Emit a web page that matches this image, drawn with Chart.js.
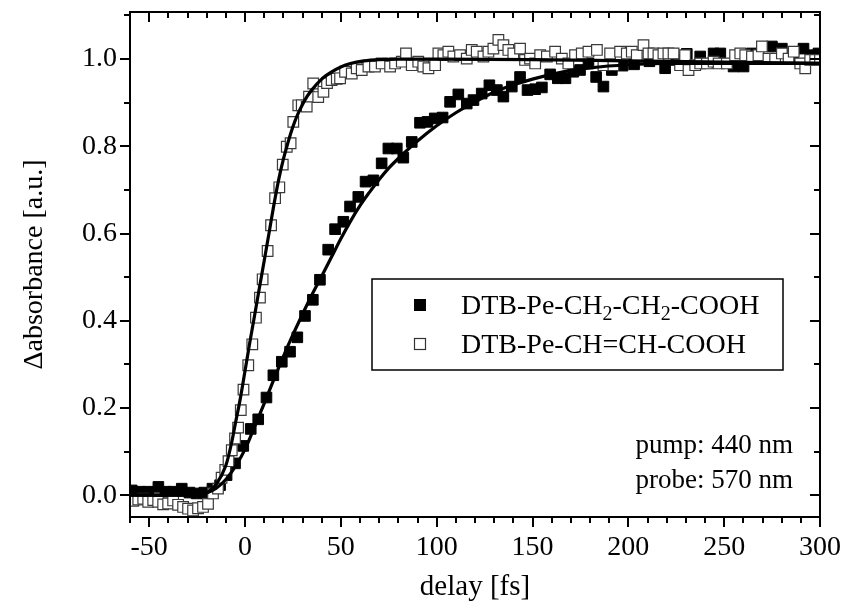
<!DOCTYPE html>
<html>
<head>
<meta charset="utf-8">
<script src="https://cdn.jsdelivr.net/npm/chart.js@4.4.1/dist/chart.umd.min.js"></script>
<style>
  html, body { margin: 0; padding: 0; background: #fff; }
  #chart { display: block; }
</style>
</head>
<body>
<canvas id="chart" width="845" height="614"></canvas>
<script>
// DTB-Pe-CH=CH-COOH (open squares)
var openDelay = [-58.3, -55.7, -53.1, -50.5, -47.9, -45.3, -42.7, -40.1, -37.5, -34.9, -32.3, -29.7, -27.1, -24.5, -21.9, -19.3, -16.7, -14.1, -12.2, -10.3, -8.6, -6.9, -5.2, -3.6, -2.2, -0.8, 1.7, 3.8, 5.7, 7.8, 9.2, 11.8, 13.6, 15.7, 17.9, 19.7, 21.8, 23.8, 25.2, 27.8, 29.6, 32.2, 33.4, 35.6, 38.2, 40.9, 42.8, 45.2, 47.9, 49.6, 52.2, 55.7, 58.3, 60.9, 64.4, 67.8, 71.3, 75.7, 78.3, 81.8, 84.0, 87.0, 90.4, 93.0, 95.7, 99.2, 100.9, 103.5, 106.1, 108.7, 112.2, 115.7, 118.3, 120.9, 124.4, 127.0, 129.6, 132.2, 134.8, 137.4, 140.0, 143.5, 146.1, 148.7, 151.4, 154.0, 157.5, 161.8, 165.3, 168.7, 172.2, 175.7, 179.2, 183.6, 187.0, 190.5, 192.2, 195.7, 199.2, 201.8, 204.4, 207.9, 210.5, 213.1, 215.7, 218.3, 220.9, 223.6, 227.0, 229.6, 231.4, 234.9, 237.5, 241.0, 244.5, 247.1, 251.4, 255.7, 258.4, 261.0, 264.5, 267.9, 269.7, 273.1, 276.6, 280.1, 283.6, 286.3, 289.7, 292.3, 294.9, 297.5, 300.0];
var openAbs = [-0.013, -0.010, -0.008, -0.015, -0.011, -0.015, -0.021, -0.019, -0.012, -0.022, -0.027, -0.031, -0.035, -0.030, -0.027, -0.020, 0.004, 0.015, 0.040, 0.058, 0.078, 0.103, 0.130, 0.155, 0.195, 0.242, 0.298, 0.346, 0.407, 0.453, 0.495, 0.560, 0.619, 0.681, 0.706, 0.758, 0.799, 0.807, 0.856, 0.894, 0.894, 0.891, 0.914, 0.944, 0.913, 0.925, 0.945, 0.952, 0.955, 0.956, 0.971, 0.967, 0.979, 0.975, 0.983, 0.983, 0.990, 0.983, 0.990, 0.994, 1.013, 0.986, 0.994, 0.983, 0.979, 0.986, 1.013, 1.009, 1.017, 1.006, 1.009, 1.001, 1.021, 1.017, 1.006, 1.017, 1.024, 1.044, 1.032, 1.021, 1.013, 1.024, 0.998, 1.001, 0.990, 1.009, 1.006, 1.017, 1.001, 0.990, 1.009, 1.013, 1.017, 1.021, 0.986, 1.013, 0.986, 1.017, 1.013, 1.017, 1.009, 1.032, 1.013, 1.013, 1.009, 1.013, 1.013, 1.013, 0.986, 1.009, 0.975, 0.986, 0.990, 0.990, 0.994, 0.990, 0.990, 1.009, 1.013, 1.009, 1.006, 1.009, 1.029, 1.001, 1.001, 1.013, 1.001, 1.017, 0.990, 0.979, 0.998, 0.998, 0.998];

// DTB-Pe-CH2-CH2-COOH (filled squares)
var filledDelay = [-59.1, -55.0, -50.5, -45.2, -41.5, -37.3, -33.0, -29.0, -25.2, -21.2, -17.0, -13.0, -9.6, -5.2, -0.9, 3.0, 6.9, 11.2, 14.8, 19.2, 23.5, 27.3, 31.3, 35.4, 39.1, 43.4, 47.0, 51.3, 54.8, 59.1, 62.9, 67.0, 71.3, 74.8, 79.2, 82.6, 87.0, 91.3, 95.2, 99.0, 103.1, 107.0, 111.3, 115.7, 119.2, 123.5, 127.5, 131.4, 134.8, 139.2, 143.5, 147.4, 151.4, 154.9, 159.2, 163.2, 167.2, 171.3, 174.8, 179.2, 183.2, 187.0, 191.4, 197.0, 203.0, 211.0, 219.2, 225.0, 230.5, 237.5, 244.5, 248.0, 254.9, 260.1, 264.5, 270.0, 274.9, 280.1, 286.0, 291.4, 295.7, 299.2];
var filledAbs = [0.011, 0.008, 0.008, 0.019, 0.008, 0.008, 0.015, 0.006, 0.004, 0.006, 0.015, 0.023, 0.046, 0.073, 0.113, 0.152, 0.174, 0.224, 0.275, 0.306, 0.329, 0.362, 0.411, 0.448, 0.494, 0.563, 0.610, 0.627, 0.662, 0.684, 0.719, 0.722, 0.761, 0.795, 0.795, 0.774, 0.810, 0.854, 0.856, 0.864, 0.866, 0.902, 0.919, 0.898, 0.906, 0.921, 0.940, 0.929, 0.914, 0.937, 0.959, 0.929, 0.931, 0.935, 0.965, 0.956, 0.956, 0.971, 0.975, 0.990, 0.959, 0.937, 0.975, 0.985, 0.988, 0.995, 0.979, 0.998, 1.012, 1.006, 1.013, 1.013, 0.983, 0.983, 1.013, 1.000, 1.029, 1.024, 1.002, 1.024, 1.009, 1.013];

// fit curves
var fastFitDelay = [-60, -40, -30, -25, -20, -15, -10, -6.9, -5, -2.6, 0, 2.5, 5, 7.5, 10, 12.5, 15, 17.5, 20, 22.5, 25, 27.5, 30, 32.5, 35, 40, 45, 50, 55, 62, 70, 80, 100, 150, 200, 250, 300];
var fastFitAbs = [0, 0, 0, 0.001, 0.006, 0.025, 0.068, 0.122, 0.165, 0.218, 0.285, 0.35, 0.412, 0.475, 0.537, 0.6, 0.664, 0.722, 0.77, 0.81, 0.845, 0.873, 0.896, 0.915, 0.93, 0.954, 0.97, 0.982, 0.99, 0.996, 0.999, 1.0, 1.0, 0.999, 0.996, 0.993, 0.99];
var slowFitDelay = [-60, -40, -30, -25, -20, -15, -10, -5, 0, 5, 10, 15, 20, 25, 30, 35, 40, 45, 50, 55, 60, 65, 70, 75, 80, 90, 100, 110, 120, 130, 140, 150, 160, 170, 180, 200, 220, 250, 300];
var slowFitAbs = [0, 0, 0, 0.001, 0.005, 0.016, 0.036, 0.066, 0.105, 0.157, 0.21, 0.265, 0.318, 0.368, 0.415, 0.46, 0.502, 0.545, 0.588, 0.628, 0.664, 0.695, 0.724, 0.75, 0.772, 0.812, 0.847, 0.877, 0.902, 0.924, 0.941, 0.954, 0.965, 0.974, 0.98, 0.987, 0.99, 0.99, 0.99];

var xTickValues = [-50, 0, 50, 100, 150, 200, 250, 300];
var yTickValues = [0, 0.2, 0.4, 0.6, 0.8, 1.0];

var FONT = "'Liberation Serif', 'Times New Roman', serif";

function toPoints(xs, ys) {
    return xs.map(function (x, i) { return { x: x, y: ys[i] }; });
}

// frame with ticks: outside on bottom/left, inside on top/right
var framePlugin = {
    id: 'frame',
    afterDraw: function (chart) {
        var ctx = chart.ctx;
        var a = chart.chartArea;
        var xs = chart.scales.x;
        var ys = chart.scales.y;
        ctx.save();
        ctx.strokeStyle = '#000';
        ctx.lineWidth = 2;
        ctx.strokeRect(a.left, a.top, a.right - a.left, a.bottom - a.top);
        ctx.beginPath();
        for (var v = -60; v <= 300; v += 10) {
            var px = Math.round(xs.getPixelForValue(v));
            var len = (v % 50 === 0) ? 10 : 6;
            ctx.moveTo(px, a.bottom);
            ctx.lineTo(px, a.bottom + len);
            ctx.moveTo(px, a.top);
            ctx.lineTo(px, a.top + len);
        }
        for (var i = 0; i <= 11; i++) {
            var py = Math.round(ys.getPixelForValue(i / 10));
            var l = (i % 2 === 0) ? 10 : 6;
            ctx.moveTo(a.left - l, py);
            ctx.lineTo(a.left, py);
            ctx.moveTo(a.right - l, py);
            ctx.lineTo(a.right, py);
        }
        ctx.stroke();

        // legend
        ctx.lineWidth = 1.5;
        ctx.strokeRect(372, 279, 411, 91);
        ctx.fillStyle = '#000';
        ctx.fillRect(414, 299, 12, 12);
        ctx.fillStyle = '#fff';
        ctx.fillRect(414, 338, 12, 12);
        ctx.strokeStyle = '#333';
        ctx.lineWidth = 1.2;
        ctx.strokeRect(414.5, 338.5, 11, 11);

        ctx.fillStyle = '#000';
        ctx.textBaseline = 'alphabetic';
        ctx.textAlign = 'left';
        var parts = [['DTB-Pe-CH', false], ['2', true], ['-CH', false], ['2', true], ['-COOH', false]];
        var tx = 461;
        parts.forEach(function (p) {
            ctx.font = (p[1] ? '20px ' : '28px ') + FONT;
            ctx.fillText(p[0], tx, p[1] ? 320 : 314);
            tx += ctx.measureText(p[0]).width;
        });
        ctx.font = '28px ' + FONT;
        ctx.fillText('DTB-Pe-CH=CH-COOH', 461, 353);

        // measurement note
        ctx.textAlign = 'right';
        ctx.font = '27px ' + FONT;
        ctx.fillText('pump: 440 nm', 793, 453);
        ctx.fillText('probe: 570 nm', 793, 488);
        ctx.restore();
    }
};

var ctx = document.getElementById('chart').getContext('2d');

var chart = new Chart(ctx, {
    type: 'scatter',
    data: {
        datasets: [
            {
                label: 'fit CH=CH',
                data: toPoints(fastFitDelay, fastFitAbs),
                showLine: true,
                borderColor: '#000',
                borderWidth: 3.2,
                pointRadius: 0,
                cubicInterpolationMode: 'monotone',
                order: 0
            },
            {
                label: 'fit CH2-CH2',
                data: toPoints(slowFitDelay, slowFitAbs),
                showLine: true,
                borderColor: '#000',
                borderWidth: 3.2,
                pointRadius: 0,
                cubicInterpolationMode: 'monotone',
                order: 0
            },
            {
                label: 'DTB-Pe-CH=CH-COOH',
                data: toPoints(openDelay, openAbs),
                pointStyle: 'rect',
                pointRadius: 7.5,
                backgroundColor: '#fff',
                borderColor: '#3a3a3a',
                borderWidth: 1.2,
                order: 1
            },
            {
                label: 'DTB-Pe-CH2-CH2-COOH',
                data: toPoints(filledDelay, filledAbs),
                pointStyle: 'rect',
                pointRadius: 7.5,
                backgroundColor: '#000',
                borderColor: '#000',
                borderWidth: 1,
                order: 2
            }
        ]
    },
    options: {
        responsive: false,
        animation: false,
        devicePixelRatio: 1,
        layout: {
            padding: { left: 0, right: 25, top: 12, bottom: 0 }
        },
        plugins: {
            legend: { display: false },
            tooltip: { enabled: false }
        },
        scales: {
            x: {
                type: 'linear',
                min: -60,
                max: 300,
                grid: { display: false, drawTicks: false },
                border: { display: false },
                afterBuildTicks: function (scale) {
                    scale.ticks = xTickValues.map(function (v) { return { value: v }; });
                },
                afterFit: function (scale) {
                    scale.height = 97;
                    scale.paddingLeft = 0;
                    scale.paddingRight = 0;
                },
                ticks: {
                    color: '#000',
                    padding: 14,
                    maxRotation: 0,
                    font: { family: FONT, size: 28 },
                    callback: function (v) { return String(v); }
                },
                title: {
                    display: true,
                    text: 'delay [fs]',
                    color: '#000',
                    font: { family: FONT, size: 29 },
                    padding: { top: 0, bottom: 9 }
                }
            },
            y: {
                type: 'linear',
                min: -0.05,
                max: 1.108,
                grid: { display: false, drawTicks: false },
                border: { display: false },
                afterBuildTicks: function (scale) {
                    scale.ticks = yTickValues.map(function (v) { return { value: v }; });
                },
                afterFit: function (scale) {
                    scale.width = 130;
                    scale.paddingTop = 0;
                    scale.paddingBottom = 0;
                },
                ticks: {
                    color: '#000',
                    padding: 13,
                    font: { family: FONT, size: 28 },
                    callback: function (v) { return Number(v).toFixed(1); }
                },
                title: {
                    display: true,
                    text: 'Δabsorbance [a.u.]',
                    color: '#000',
                    font: { family: FONT, size: 28 },
                    padding: { top: 18, bottom: 0 }
                }
            }
        }
    },
    plugins: [framePlugin]
});
</script>
</body>
</html>
